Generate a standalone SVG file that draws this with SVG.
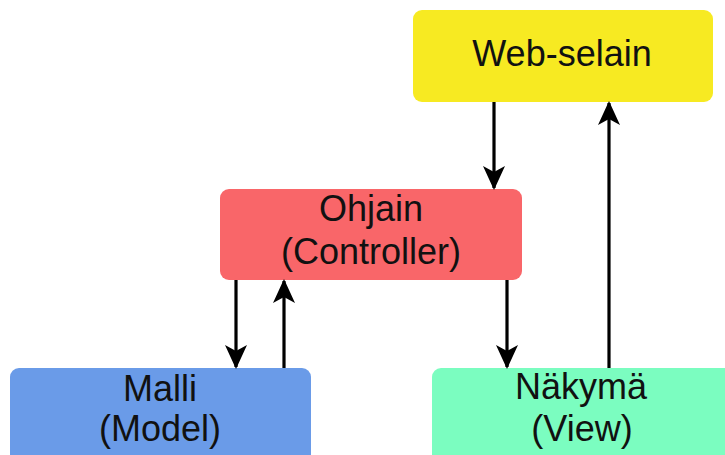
<svg xmlns="http://www.w3.org/2000/svg" width="725" height="455" viewBox="0 0 725 455">
  <style>
    .box { stroke: none; }
    .label { font-family: "Liberation Sans", Arial, sans-serif; font-size: 36px; fill: #111; text-anchor: middle; }
    .edge { stroke: #000; stroke-width: 3.2; fill: none; marker-end: url(#head); }
  </style>
  <defs>
    <marker id="head" viewBox="0 0 24 24" refX="22" refY="12" markerWidth="24" markerHeight="24" markerUnits="userSpaceOnUse" orient="auto">
      <path d="M0,1 L24,12 L0,23 L6,12 Z" fill="#000"/>
    </marker>
  </defs>
  <rect width="725" height="455" fill="#fff"/>

  <g id="browser">
    <rect class="box" x="413" y="10" width="300" height="92" rx="9" fill="#f7ea22"/>
    <text class="label" x="562" y="66">Web-selain</text>
  </g>

  <g id="controller">
    <rect class="box" x="220" y="189" width="302" height="91" rx="9" fill="#f96669"/>
    <text class="label" x="371" y="221">Ohjain</text>
    <text class="label" x="371" y="264">(Controller)</text>
  </g>

  <g id="model">
    <rect class="box" x="10" y="368" width="301" height="100" rx="9" fill="#6a9be8"/>
    <text class="label" x="160" y="401">Malli</text>
    <text class="label" x="160" y="441">(Model)</text>
  </g>

  <g id="view">
    <rect class="box" x="432" y="368" width="310" height="100" rx="9" fill="#7bfdc0"/>
    <text class="label" x="581" y="399">Näkymä</text>
    <text class="label" x="582" y="441">(View)</text>
  </g>

  <g id="connectors">
    <line class="edge" x1="494" y1="102" x2="494" y2="188"/>
    <line class="edge" x1="609" y1="368" x2="609" y2="103"/>
    <line class="edge" x1="236" y1="280" x2="236" y2="367"/>
    <line class="edge" x1="284" y1="368" x2="284" y2="281"/>
    <line class="edge" x1="507" y1="280" x2="507" y2="367"/>
  </g>
</svg>
